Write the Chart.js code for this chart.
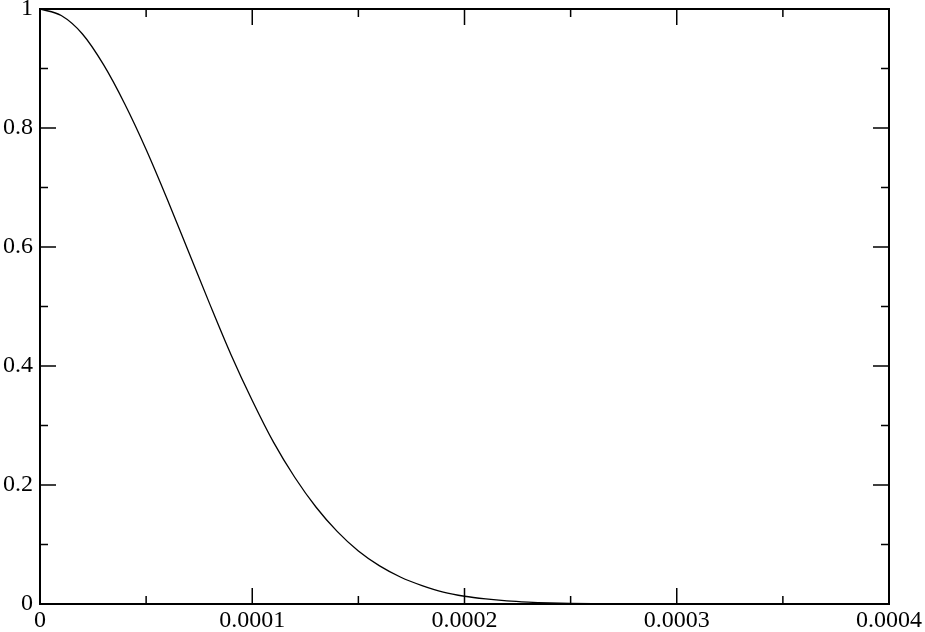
<!DOCTYPE html>
<html>
<head>
<meta charset="utf-8">
<script src="https://cdn.jsdelivr.net/npm/chart.js@4/dist/chart.umd.min.js"></script>
<style>
html,body{margin:0;padding:0;background:#fff;}
#wrap{position:relative;width:925px;height:632px;}
</style>
</head>
<body>
<div id="wrap"><canvas id="c" width="925" height="632"></canvas></div>
<script>
// Data
const xValues = [0,0.00001,0.00002,0.00003,0.00004,0.00005,0.00006,0.00007,0.00008,0.00009,
  0.0001,0.00011,0.00012,0.00013,0.00014,0.00015,0.00016,0.00017,0.00018,0.00019,
  0.0002,0.00021,0.00022,0.00023,0.00024,0.00025,0.00026,0.00027,0.00028,0.00029,
  0.0003,0.00032,0.00035,0.0004];
const yValues = [1,0.989,0.958,0.906,0.840,0.764,0.680,0.592,0.504,0.419,
  0.342,0.272,0.213,0.163,0.122,0.089,0.064,0.045,0.031,0.020,
  0.013,0.0085,0.0053,0.0033,0.002,0.0012,0.0007,0.0004,0.0002,0.0001,
  0.00005,0,0,0];
const xTickLabels = ["0","0.0001","0.0002","0.0003","0.0004"];
const yTickLabels = ["0","0.2","0.4","0.6","0.8","1"];
const xMajor = [0,0.0001,0.0002,0.0003,0.0004];
const xMinor = [0.00005,0.00015,0.00025,0.00035];
const yMajor = [0,0.2,0.4,0.6,0.8,1];
const yMinor = [0.1,0.3,0.5,0.7,0.9];

const FONT = {family:'"Liberation Serif","Times New Roman",serif', size:24};

const innerTicks = {
  id:'innerTicks',
  afterDraw(chart){
    const {ctx, chartArea:a, scales:{x,y}} = chart;
    ctx.save();
    ctx.strokeStyle = '#000';
    ctx.lineWidth = 1.5;
    ctx.beginPath();
    const tx = (v,len)=>{const p=x.getPixelForValue(v);
      ctx.moveTo(p,a.bottom);ctx.lineTo(p,a.bottom-len);
      ctx.moveTo(p,a.top);ctx.lineTo(p,a.top+len);};
    const ty = (v,len)=>{const p=y.getPixelForValue(v);
      ctx.moveTo(a.left,p);ctx.lineTo(a.left+len,p);
      ctx.moveTo(a.right,p);ctx.lineTo(a.right-len,p);};
    xMajor.forEach(v=>tx(v,16)); xMinor.forEach(v=>tx(v,8));
    yMajor.forEach(v=>ty(v,16)); yMinor.forEach(v=>ty(v,8));
    ctx.stroke();
    ctx.lineWidth = 2;
    ctx.strokeRect(a.left,a.top,a.right-a.left,a.bottom-a.top);
    ctx.restore();
  }
};

function draw(){
new Chart(document.getElementById('c'), {
  type:'line',
  data:{datasets:[{
    data: xValues.map((v,i)=>({x:v,y:yValues[i]})),
    borderColor:'#000', borderWidth:1.3, pointRadius:0, fill:false,
    cubicInterpolationMode:'monotone'
  }]},
  options:{
    responsive:false, animation:false,
    layout:{padding:{top:9,right:36,left:0,bottom:0}},
    plugins:{legend:{display:false},tooltip:{enabled:false}},
    scales:{
      x:{type:'linear', min:0, max:0.0004,
        grid:{display:false, drawTicks:false}, border:{display:false},
        afterBuildTicks(s){ s.ticks = xMajor.map(v=>({value:v})); },
        ticks:{color:'#000', font:FONT, padding:2, maxRotation:0, autoSkip:false,
          callback:(v,i)=>xTickLabels[i]},
        afterFit(s){ s.height=28; s.paddingLeft=0; s.paddingRight=0; }
      },
      y:{type:'linear', min:0, max:1,
        grid:{display:false, drawTicks:false}, border:{display:false},
        afterBuildTicks(s){ s.ticks = yMajor.map(v=>({value:v})); },
        ticks:{color:'#000', font:FONT, padding:7, autoSkip:false,
          callback:(v,i)=>yTickLabels[i]},
        afterFit(s){ s.width=40; s.paddingTop=0; s.paddingBottom=0; }
      }
    }
  },
  plugins:[innerTicks]
});
}
if (document.fonts && document.fonts.load) {
  document.fonts.load('24px "Liberation Serif"').then(draw, draw);
} else { draw(); }
</script>
</body>
</html>
